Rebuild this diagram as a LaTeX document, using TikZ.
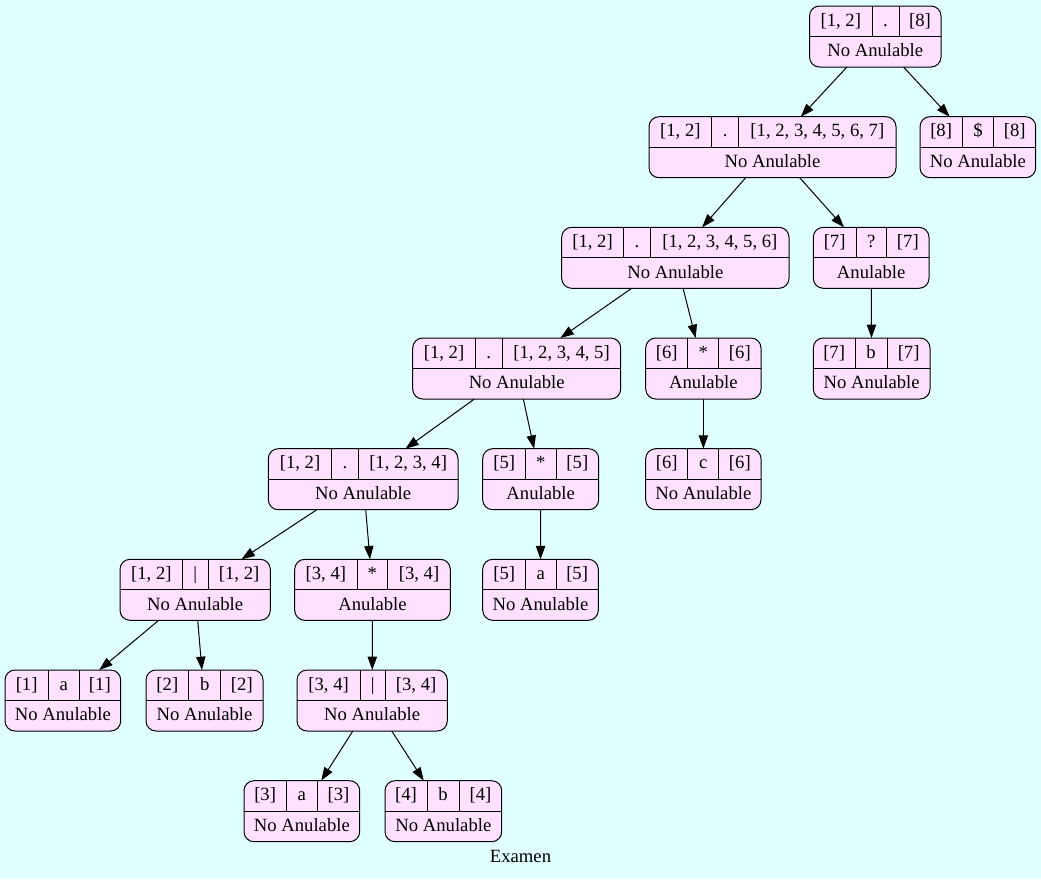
\documentclass[tikz,border=0pt]{standalone}
\usepackage{fontspec}
\setmainfont{Liberation Serif}
\usetikzlibrary{arrows.meta,calc,fit}

\definecolor{fondo}{HTML}{E0FFFF}
\definecolor{relleno}{HTML}{FFE0FF}

\tikzset{
  rec/.style={draw, fill=relleno, rounded corners=7.5pt, line width=0.75pt, inner sep=0pt, outer sep=0pt},
  recline/.style={line width=0.75pt},
  fld/.style={inner sep=0pt, anchor=base, font=\fontsize{14pt}{16pt}\selectfont},
  arco/.style={-{Triangle[length=10pt,width=7pt]}, line width=0.75pt}
}

% record: name, top-left, width, first divider, second divider, three fields, footer
\newcommand{\recnode}[9]{%
  \coordinate (#1-nw) at (#2);
  \coordinate (#1-se) at ($(#1-nw)+(#3,61)$);
  \node[rec, fit=(#1-nw)(#1-se)] (#1) {};
  \draw[recline] (#1.west) -- (#1.east);
  \draw[recline] (#4,0 |- #1.north) -- (#4,0 |- #1.center);
  \draw[recline] (#5,0 |- #1.north) -- (#5,0 |- #1.center);
  \node[fld] (#1-a) at ($(#1-nw)!0.5!(#4,0 |- #1.center)+(0,5)$) {#6};
  \node[fld] (#1-b) at ($(#4,0 |- #1.north)!0.5!(#5,0 |- #1.center)+(0,5)$) {#7};
  \node[fld] (#1-c) at ($(#5,0 |- #1.north)!0.5!(#1.east)+(0,5)$) {#8};
  \node[fld] (#1-f) at ($(#1.center)!0.5!(#1.south)+(0,5)$) {#9};
}

\begin{document}
\begin{tikzpicture}[x=0.75pt,y=-0.75pt]
  \fill[fondo] (0,0) rectangle (1041,879);
  \useasboundingbox (0,0) rectangle (1041,879);

  \recnode{root}{809.5,6}{131.5}{872}{899}{[1, 2]}{.}{[8]}{No Anulable}
  \recnode{cat7}{649,116.7}{247}{711.7}{738.7}{[1, 2]}{.}{[1, 2, 3, 4, 5, 6, 7]}{No Anulable}
  \recnode{dol8}{920,116.7}{115.7}{962.3}{993.7}{[8]}{\$}{[8]}{No Anulable}
  \recnode{cat6}{561.7,227.3}{227.3}{623.3}{650.7}{[1, 2]}{.}{[1, 2, 3, 4, 5, 6]}{No Anulable}
  \recnode{opt7}{813.3,227.3}{115.7}{856}{886.7}{[7]}{?}{[7]}{Anulable}
  \recnode{cat5}{412.7,338}{208}{475.3}{502.3}{[1, 2]}{.}{[1, 2, 3, 4, 5]}{No Anulable}
  \recnode{star6}{645.7,338}{115.3}{687.7}{718.7}{[6]}{*}{[6]}{Anulable}
  \recnode{b7}{813.3,338}{116.7}{855}{887.3}{[7]}{b}{[7]}{No Anulable}
  \recnode{cat4}{268.3,448.7}{189.7}{331.7}{358.3}{[1, 2]}{.}{[1, 2, 3, 4]}{No Anulable}
  \recnode{star5}{482.7,448.7}{116}{525.7}{556}{[5]}{*}{[5]}{Anulable}
  \recnode{c6}{645.7,448.7}{115.3}{687.7}{718.7}{[6]}{c}{[6]}{No Anulable}
  \recnode{alt12}{120,559.3}{150.3}{182.7}{208}{[1, 2]}{|}{[1, 2]}{No Anulable}
  \recnode{star34}{294.7,559.3}{155.6}{357}{387.7}{[3, 4]}{*}{[3, 4]}{Anulable}
  \recnode{a5}{482.7,559.3}{115.6}{525.7}{556}{[5]}{a}{[5]}{No Anulable}
  \recnode{a1}{5,670}{115.7}{48.3}{79}{[1]}{a}{[1]}{No Anulable}
  \recnode{b2}{146,670}{117}{188.7}{220.7}{[2]}{b}{[2]}{No Anulable}
  \recnode{alt34}{297,670}{150.3}{360.3}{385}{[3, 4]}{|}{[3, 4]}{No Anulable}
  \recnode{a3}{244,780.7}{115.7}{286.3}{317.3}{[3]}{a}{[3]}{No Anulable}
  \recnode{b4}{385,780.7}{116.7}{427}{459.3}{[4]}{b}{[4]}{No Anulable}

  \draw[arco] (root) -- (cat7);
  \draw[arco] (root) -- (dol8);
  \draw[arco] (cat7) -- (cat6);
  \draw[arco] (cat7) -- (opt7);
  \draw[arco] (cat6) -- (cat5);
  \draw[arco] (cat6) -- (star6);
  \draw[arco] (opt7) -- (b7);
  \draw[arco] (cat5) -- (cat4);
  \draw[arco] (cat5) -- (star5);
  \draw[arco] (star6) -- (c6);
  \draw[arco] (cat4) -- (alt12);
  \draw[arco] (cat4) -- (star34);
  \draw[arco] (star5) -- (a5);
  \draw[arco] (alt12) -- (a1);
  \draw[arco] (alt12) -- (b2);
  \draw[arco] (star34) -- (alt34);
  \draw[arco] (alt34) -- (a3);
  \draw[arco] (alt34) -- (b4);

  \node[fld] (titulo) at (520.5,862) {Examen};
\end{tikzpicture}
\end{document}
